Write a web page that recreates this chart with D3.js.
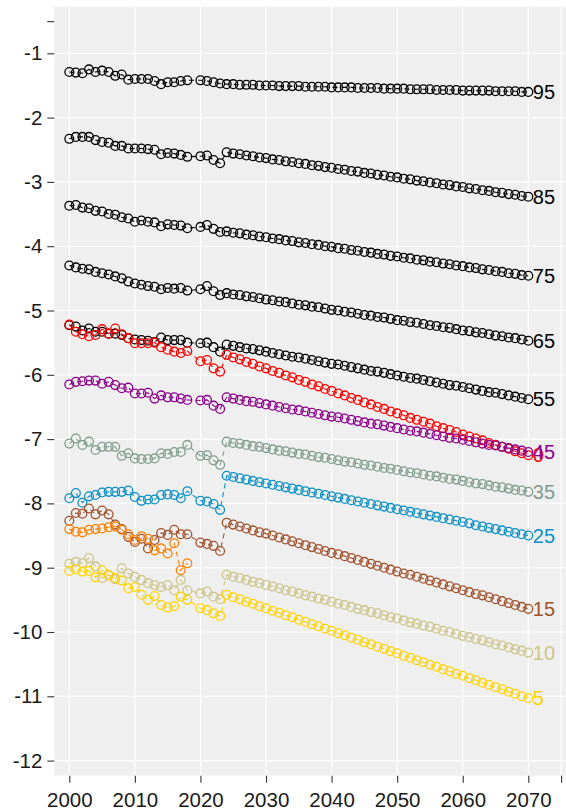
<!DOCTYPE html>
<html>
<head>
<meta charset="utf-8">
<script src="https://cdn.jsdelivr.net/npm/d3@7"></script>
<style>
  html, body { margin: 0; padding: 0; background: #ffffff; }
  text { font-family: "Liberation Sans", Arial, sans-serif; }
</style>
</head>
<body>
<div id="chart"></div>
<script>
// years with a value (no 2019)
var years = [2000, 2001, 2002, 2003, 2004, 2005, 2006, 2007, 2008, 2009,
             2010, 2011, 2012, 2013, 2014, 2015, 2016, 2017, 2018,
             2020, 2021, 2022, 2023,
             2024, 2025, 2026, 2027, 2028, 2029, 2030, 2031, 2032, 2033,
             2034, 2035, 2036, 2037, 2038, 2039, 2040, 2041, 2042, 2043,
             2044, 2045, 2046, 2047, 2048, 2049, 2050, 2051, 2052, 2053,
             2054, 2055, 2056, 2057, 2058, 2059, 2060, 2061, 2062, 2063,
             2064, 2065, 2066, 2067, 2068, 2069, 2070];

var ageLabels = ["95", "85", "75", "65", "55", "0", "45", "35", "25", "15", "10", "5"];

var age95 = [-1.29, -1.30, -1.31, -1.25, -1.29, -1.27, -1.29, -1.35, -1.33, -1.41, -1.40, -1.40, -1.40, -1.43, -1.48, -1.45, -1.45, -1.43, -1.42,
             -1.42, -1.43, -1.45, -1.47,
             -1.48, -1.48, -1.49, -1.49, -1.49, -1.50, -1.50, -1.50, -1.51, -1.51,
             -1.51, -1.51, -1.52, -1.52, -1.52, -1.52, -1.53, -1.53, -1.53, -1.53,
             -1.54, -1.54, -1.54, -1.54, -1.55, -1.55, -1.55, -1.55, -1.56, -1.56,
             -1.56, -1.56, -1.57, -1.57, -1.57, -1.57, -1.58, -1.58, -1.58, -1.58,
             -1.58, -1.59, -1.59, -1.59, -1.59, -1.60, -1.60];

var age85 = [-2.33, -2.30, -2.30, -2.30, -2.35, -2.38, -2.39, -2.44, -2.44, -2.48, -2.48, -2.48, -2.49, -2.50, -2.57, -2.55, -2.56, -2.58, -2.61,
             -2.60, -2.59, -2.66, -2.71,
             -2.54, -2.56, -2.57, -2.59, -2.60, -2.62, -2.63, -2.65, -2.66, -2.68,
             -2.69, -2.71, -2.72, -2.74, -2.75, -2.77, -2.78, -2.80, -2.81, -2.83,
             -2.84, -2.86, -2.87, -2.89, -2.90, -2.92, -2.93, -2.95, -2.96, -2.98,
             -2.99, -3.01, -3.02, -3.04, -3.05, -3.07, -3.08, -3.10, -3.11, -3.13,
             -3.14, -3.16, -3.17, -3.19, -3.20, -3.22, -3.23];

var age75 = [-3.37, -3.36, -3.40, -3.41, -3.45, -3.46, -3.50, -3.51, -3.55, -3.57, -3.62, -3.60, -3.62, -3.63, -3.69, -3.66, -3.67, -3.68, -3.72,
             -3.70, -3.67, -3.73, -3.78,
             -3.77, -3.79, -3.80, -3.82, -3.83, -3.85, -3.86, -3.88, -3.89, -3.91,
             -3.92, -3.94, -3.95, -3.97, -3.98, -4.00, -4.01, -4.03, -4.04, -4.06,
             -4.07, -4.09, -4.10, -4.12, -4.13, -4.15, -4.16, -4.18, -4.19, -4.21,
             -4.22, -4.24, -4.25, -4.27, -4.28, -4.30, -4.31, -4.33, -4.34, -4.36,
             -4.37, -4.39, -4.40, -4.42, -4.43, -4.45, -4.46];

var age65 = [-4.30, -4.33, -4.35, -4.36, -4.40, -4.42, -4.44, -4.47, -4.50, -4.55, -4.58, -4.60, -4.62, -4.63, -4.67, -4.65, -4.66, -4.65, -4.69,
             -4.67, -4.62, -4.70, -4.76,
             -4.73, -4.75, -4.76, -4.78, -4.79, -4.81, -4.83, -4.84, -4.86, -4.87,
             -4.89, -4.91, -4.92, -4.94, -4.95, -4.97, -4.99, -5.00, -5.02, -5.03,
             -5.05, -5.07, -5.08, -5.10, -5.11, -5.13, -5.15, -5.16, -5.18, -5.19,
             -5.21, -5.23, -5.24, -5.26, -5.27, -5.29, -5.31, -5.32, -5.34, -5.35,
             -5.37, -5.39, -5.40, -5.42, -5.43, -5.45, -5.47];

var age55 = [-5.23, -5.25, -5.31, -5.28, -5.33, -5.33, -5.36, -5.36, -5.38, -5.43, -5.45, -5.46, -5.47, -5.49, -5.42, -5.46, -5.46, -5.46, -5.50,
             -5.51, -5.50, -5.57, -5.64,
             -5.53, -5.55, -5.57, -5.59, -5.60, -5.62, -5.64, -5.66, -5.68, -5.70,
             -5.72, -5.73, -5.75, -5.77, -5.79, -5.81, -5.83, -5.84, -5.86, -5.88,
             -5.90, -5.92, -5.94, -5.95, -5.97, -5.99, -6.01, -6.03, -6.05, -6.06,
             -6.08, -6.10, -6.12, -6.14, -6.16, -6.17, -6.19, -6.21, -6.23, -6.25,
             -6.27, -6.28, -6.30, -6.32, -6.34, -6.36, -6.38];

var age0 = [-5.22, -5.33, -5.37, -5.40, -5.38, -5.29, -5.36, -5.28, -5.37, -5.43, -5.51, -5.51, -5.51, -5.50, -5.57, -5.61, -5.64, -5.66, -5.63,
            -5.79, -5.77, -5.90, -5.95,
            -5.69, -5.73, -5.76, -5.80, -5.83, -5.87, -5.90, -5.94, -5.97, -6.01,
            -6.04, -6.08, -6.11, -6.15, -6.18, -6.22, -6.25, -6.29, -6.32, -6.36,
            -6.39, -6.43, -6.46, -6.50, -6.53, -6.57, -6.60, -6.63, -6.67, -6.70,
            -6.73, -6.76, -6.80, -6.83, -6.86, -6.89, -6.93, -6.96, -6.99, -7.02,
            -7.06, -7.09, -7.12, -7.15, -7.19, -7.22, -7.25];

var age45 = [-6.15, -6.11, -6.10, -6.09, -6.09, -6.14, -6.11, -6.16, -6.21, -6.20, -6.29, -6.29, -6.28, -6.37, -6.32, -6.35, -6.35, -6.37, -6.39,
             -6.40, -6.39, -6.48, -6.53,
             -6.35, -6.37, -6.39, -6.41, -6.42, -6.44, -6.46, -6.48, -6.50, -6.52,
             -6.54, -6.55, -6.57, -6.59, -6.61, -6.63, -6.65, -6.66, -6.68, -6.70,
             -6.72, -6.74, -6.76, -6.77, -6.79, -6.81, -6.83, -6.85, -6.87, -6.88,
             -6.90, -6.92, -6.94, -6.96, -6.98, -6.99, -7.01, -7.03, -7.05, -7.07,
             -7.09, -7.10, -7.12, -7.14, -7.16, -7.18, -7.20];

var age35 = [-7.07, -6.99, -7.09, -7.04, -7.17, -7.12, -7.12, -7.12, -7.26, -7.22, -7.30, -7.31, -7.31, -7.30, -7.22, -7.23, -7.20, -7.20, -7.09,
             -7.26, -7.25, -7.33, -7.40,
             -7.04, -7.06, -7.07, -7.09, -7.11, -7.12, -7.14, -7.16, -7.18, -7.19,
             -7.21, -7.23, -7.24, -7.26, -7.28, -7.29, -7.31, -7.33, -7.35, -7.36,
             -7.38, -7.40, -7.41, -7.43, -7.45, -7.46, -7.48, -7.50, -7.52, -7.53,
             -7.55, -7.57, -7.58, -7.60, -7.62, -7.63, -7.65, -7.67, -7.69, -7.70,
             -7.72, -7.74, -7.75, -7.77, -7.79, -7.80, -7.82];

var age25 = [-7.92, -7.84, -7.99, -7.89, -7.87, -7.83, -7.82, -7.82, -7.82, -7.80, -7.90, -7.96, -7.94, -7.94, -7.87, -7.86, -7.87, -7.92, -7.81,
             -7.96, -7.97, -8.01, -8.10,
             -7.57, -7.59, -7.61, -7.63, -7.65, -7.67, -7.69, -7.71, -7.73, -7.75,
             -7.77, -7.79, -7.81, -7.83, -7.85, -7.87, -7.89, -7.91, -7.93, -7.95,
             -7.97, -7.99, -8.01, -8.03, -8.05, -8.07, -8.09, -8.11, -8.13, -8.15,
             -8.17, -8.19, -8.21, -8.23, -8.25, -8.27, -8.29, -8.31, -8.34, -8.36,
             -8.38, -8.40, -8.42, -8.44, -8.46, -8.48, -8.50];

var age15 = [-8.27, -8.15, -8.16, -8.08, -8.17, -8.11, -8.17, -8.33, -8.40, -8.52, -8.60, -8.55, -8.70, -8.57, -8.46, -8.49, -8.41, -8.48, -8.48,
             -8.61, -8.63, -8.66, -8.74,
             -8.30, -8.33, -8.36, -8.39, -8.42, -8.45, -8.47, -8.50, -8.53, -8.56,
             -8.59, -8.62, -8.65, -8.68, -8.71, -8.74, -8.77, -8.79, -8.82, -8.85,
             -8.88, -8.91, -8.94, -8.97, -9.00, -9.03, -9.06, -9.09, -9.11, -9.14,
             -9.17, -9.20, -9.23, -9.26, -9.29, -9.32, -9.35, -9.38, -9.41, -9.43,
             -9.46, -9.49, -9.52, -9.55, -9.58, -9.61, -9.64];

var age10 = [-8.94, -8.91, -8.93, -8.85, -8.98, -9.16, -9.11, -9.18, -9.01, -9.09, -9.14, -9.19, -9.24, -9.27, -9.30, -9.27, -9.35, -9.19, -9.35,
             -9.40, -9.37, -9.45, -9.49,
             -9.11, -9.14, -9.16, -9.19, -9.22, -9.24, -9.27, -9.29, -9.32, -9.35,
             -9.37, -9.40, -9.43, -9.45, -9.48, -9.50, -9.53, -9.56, -9.58, -9.61,
             -9.64, -9.66, -9.69, -9.71, -9.74, -9.77, -9.79, -9.82, -9.85, -9.87,
             -9.90, -9.92, -9.95, -9.98, -10.00, -10.03, -10.06, -10.08, -10.11, -10.13,
             -10.16, -10.19, -10.21, -10.24, -10.27, -10.29, -10.32];

var age5 = [-9.05, -9.02, -9.06, -9.05, -9.15, -9.04, -9.12, -9.16, -9.20, -9.32, -9.30, -9.42, -9.50, -9.44, -9.58, -9.62, -9.60, -9.45, -9.50,
            -9.63, -9.66, -9.71, -9.75,
            -9.42, -9.46, -9.49, -9.53, -9.56, -9.60, -9.63, -9.67, -9.70, -9.74,
            -9.77, -9.81, -9.84, -9.88, -9.91, -9.95, -9.98, -10.02, -10.05, -10.09,
            -10.12, -10.16, -10.19, -10.23, -10.26, -10.30, -10.33, -10.37, -10.40, -10.44,
            -10.47, -10.51, -10.54, -10.58, -10.61, -10.65, -10.68, -10.72, -10.75, -10.79,
            -10.82, -10.86, -10.89, -10.93, -10.96, -11.00, -11.03];

// observed only, 2000-2018, no label
var orangeObs = [-8.40, -8.44, -8.45, -8.41, -8.40, -8.39, -8.37, -8.36, -8.41, -8.48,
                 -8.57, -8.51, -8.55, -8.73, -8.70, -8.78, -8.62, -9.04, -8.93];

var xTicks = [2000, 2010, 2020, 2030, 2040, 2050, 2060, 2070, 2075];
var yTicks = [-12, -11, -10, -9, -8, -7, -6, -5, -4, -3, -2, -1];

var colors = {
    "95": "#000000", "85": "#000000", "75": "#000000", "65": "#000000", "55": "#000000",
    "0": "#FF0000", "45": "#8B008B", "35": "#7F9C8C", "25": "#0B8FC6",
    "15": "#A0522D", "10": "#CDC48A", "5": "#FFD400", "orange": "#FF8000"
};

var seriesValues = [age95, age85, age75, age65, age55, age0, age45, age35, age25, age15, age10, age5];

var series = ageLabels.map(function(lab, i) {
    return {label: lab, color: colors[lab],
            points: years.map(function(yr, j) { return {year: yr, value: seriesValues[i][j]}; })};
});
series.push({label: "", color: colors.orange,
             points: orangeObs.map(function(v, j) { return {year: years[j], value: v}; })});

var width = 566, height = 812;
var panel = {left: 54.3, top: 6.7, right: 580, bottom: 775.7};

var svg = d3.select("#chart").append("svg")
            .attr("width", width)
            .attr("height", height);

var x = d3.scaleLinear().domain([2000, 2070]).range([69.3, 528.3]);
var y = d3.scaleLinear().domain([-1, -12]).range([53.3, 760.6]);

svg.append("rect")
   .attr("x", panel.left)
   .attr("y", panel.top)
   .attr("width", panel.right - panel.left)
   .attr("height", panel.bottom - panel.top)
   .style("fill", "#EFEFEF");

// grid
svg.append("g").selectAll("line").data(xTicks).enter().append("line")
   .attr("x1", function(d) { return x(d); })
   .attr("x2", function(d) { return x(d); })
   .attr("y1", panel.top).attr("y2", panel.bottom)
   .style("stroke", "#ffffff").style("stroke-width", 1.1);
svg.append("g").selectAll("line").data(yTicks).enter().append("line")
   .attr("x1", panel.left).attr("x2", panel.right)
   .attr("y1", function(d) { return y(d); })
   .attr("y2", function(d) { return y(d); })
   .style("stroke", "#ffffff").style("stroke-width", 1.1);

// axes
var yAxis = d3.axisLeft(y)
              .tickValues(yTicks.concat([-0.5]))
              .tickFormat(function(d) { return d === -0.5 ? "" : String(d); })
              .tickSize(7)
              .tickPadding(5);
var yGroup = svg.append("g")
                .attr("transform", "translate(" + panel.left + ",0)")
                .call(yAxis);

var xAxis = d3.axisBottom(x)
              .tickValues(xTicks)
              .tickFormat(function(d) { return d === 2075 ? "" : String(d); })
              .tickSize(7)
              .tickPadding(10);
var xGroup = svg.append("g")
                .attr("transform", "translate(0," + panel.bottom + ")")
                .call(xAxis);

[yGroup, xGroup].forEach(function(g) {
    g.select(".domain").remove();
    g.selectAll(".tick line").style("stroke", "#333333").style("stroke-width", 1.1);
    g.selectAll(".tick text")
     .style("font-family", "'Liberation Sans', Arial, sans-serif")
     .style("font-size", "20.5px")
     .style("fill", "#1a1a1a");
});

// lines + points
var line = d3.line()
             .x(function(d) { return x(d.year); })
             .y(function(d) { return y(d.value); });

var groups = svg.append("g").selectAll("g").data(series).enter().append("g");

groups.append("path")
      .attr("d", function(d) { return line(d.points); })
      .style("fill", "none")
      .style("stroke", function(d) { return d.color; })
      .style("stroke-width", 1.1)
      .style("stroke-dasharray", "5,4");

groups.selectAll("circle").data(function(d) {
          return d.points.map(function(p) { return {p: p, color: d.color}; });
      }).enter().append("circle")
      .attr("cx", function(d) { return x(d.p.year); })
      .attr("cy", function(d) { return y(d.p.value); })
      .attr("r", 4.4)
      .style("fill", "none")
      .style("stroke", function(d) { return d.color; })
      .style("stroke-width", 1.3);

// end labels
svg.append("g").selectAll("text")
   .data(series.filter(function(s) { return s.label !== ""; }))
   .enter().append("text")
   .attr("x", x(2070) + 4.5)
   .attr("y", function(d) { return y(d.points[d.points.length - 1].value); })
   .attr("dy", "0.36em")
   .attr("text-anchor", "start")
   .style("font-size", "20px")
   .style("fill", function(d) { return d.color; })
   .text(function(d) { return d.label; });
</script>
</body>
</html>
